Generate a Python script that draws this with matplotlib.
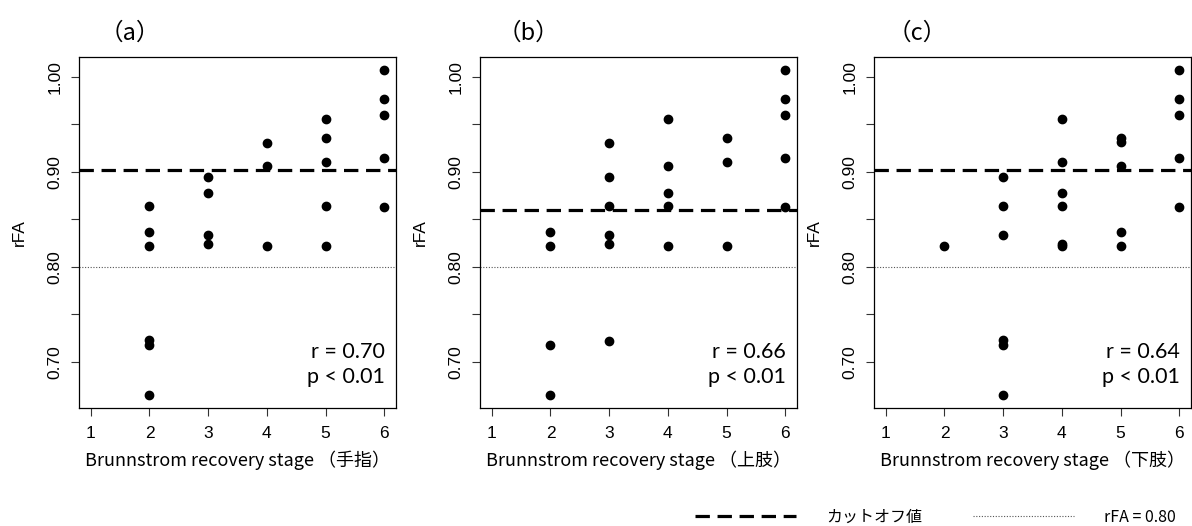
import numpy as np
import matplotlib
matplotlib.use("Agg")
import matplotlib.pyplot as plt
from matplotlib.lines import Line2D

plt.rcParams['font.family'] = ['Noto Sans CJK JP', 'DejaVu Sans']

# Brunnstrom stage vs rFA, one panel per body part
stage_a = [2, 2, 2, 2, 2, 2, 3, 3, 3, 3, 4, 4, 4, 5, 5, 5, 5, 5, 6, 6, 6, 6, 6]
rfa_a = [0.864, 0.837, 0.822, 0.723, 0.718, 0.665,
         0.894, 0.878, 0.833, 0.824,
         0.930, 0.906, 0.822,
         0.955, 0.935, 0.910, 0.864, 0.822,
         1.007, 0.977, 0.960, 0.914, 0.863]

stage_b = [2, 2, 2, 2, 3, 3, 3, 3, 3, 3, 4, 4, 4, 4, 4, 5, 5, 5, 6, 6, 6, 6, 6]
rfa_b = [0.837, 0.822, 0.718, 0.665,
         0.930, 0.894, 0.864, 0.833, 0.824, 0.722,
         0.955, 0.906, 0.878, 0.864, 0.822,
         0.935, 0.910, 0.822,
         1.007, 0.977, 0.960, 0.914, 0.863]

stage_c = [2, 3, 3, 3, 3, 3, 3, 4, 4, 4, 4, 4, 4, 5, 5, 5, 5, 5, 6, 6, 6, 6, 6]
rfa_c = [0.822,
         0.894, 0.864, 0.833, 0.723, 0.718, 0.665,
         0.955, 0.910, 0.878, 0.864, 0.824, 0.822,
         0.935, 0.931, 0.906, 0.837, 0.822,
         1.007, 0.977, 0.960, 0.914, 0.863]

panel_tags = ['（a）', '（b）', '（c）']
xlabels = ['Brunnstrom recovery stage （手指）',
           'Brunnstrom recovery stage （上肢）',
           'Brunnstrom recovery stage （下肢）']
cutoffs = [0.902, 0.860, 0.902]
r_values = [0.70, 0.66, 0.64]
ref_line = 0.80
stage_ticks = [1, 2, 3, 4, 5, 6]
rfa_ticks = [0.70, 0.75, 0.80, 0.85, 0.90, 0.95, 1.00]

W, H = 1192, 526
fig = plt.figure(figsize=(W / 100, H / 100), dpi=100)

lefts = [79, 480, 874]
tag_x = [130, 528, 917]
ax_w, top, bottom = 317, 57, 408

series = [(stage_a, rfa_a), (stage_b, rfa_b), (stage_c, rfa_c)]
latin = 'Liberation Sans'

for i, (xs, ys) in enumerate(series):
    ax = fig.add_axes([lefts[i] / W, (H - bottom) / H, ax_w / W, (bottom - top) / H])
    ax.plot(xs, ys, 'o', color='black', markersize=6, zorder=3)
    ax.axhline(cutoffs[i], color='black', lw=2.3, dashes=(4.5, 2.4))
    ax.axhline(ref_line, color='#555555', lw=0.8, ls=(0, (1, 1.5)))

    # R-style 4% padding around the data range
    lo, hi = min(ys), max(ys)
    pad = 0.04 * (hi - lo)
    ax.set_ylim(lo - pad, hi + pad)
    ax.set_xlim(0.8, 6.2)

    ax.set_xticks(stage_ticks)
    ax.set_xticklabels([str(s) for s in stage_ticks], family=latin, fontsize=12.5)
    ax.set_yticks(rfa_ticks)
    ax.set_yticklabels(['%.2f' % v if j % 2 == 0 else '' for j, v in enumerate(rfa_ticks)],
                       family=latin, fontsize=12.5, rotation=90, va='center')
    ax.tick_params(direction='out', length=6, width=0.8, color='#333333')
    ax.tick_params(axis='x', pad=7)
    ax.tick_params(axis='y', pad=6)
    for sp in ax.spines.values():
        sp.set_linewidth(0.9)

    ax.set_xlabel(xlabels[i], fontsize=13, labelpad=7)
    ax.set_ylabel('rFA', family=latin, fontsize=12.5, labelpad=15)

    ax.text(0.965, 0.123, 'r = %.2f\np < 0.01' % r_values[i], transform=ax.transAxes,
            ha='right', va='center', fontsize=15.5, family=['Lato', 'DejaVu Sans'],
            linespacing=1.3)

    fig.text(tag_x[i] / W, 1 - 33 / H, panel_tags[i], ha='center', va='center', fontsize=17)

handles = [Line2D([], [], color='black', lw=2.3, dashes=(4.5, 2.4)),
           Line2D([], [], color='#555555', lw=0.8, ls=(0, (1, 1.5)))]
fig.legend(handles, ['カットオフ値', 'rFA = 0.80'], ncol=2, frameon=False,
           loc='center left', bbox_to_anchor=(695 / W, 1 - 517 / H),
           fontsize=11.5, handlelength=6.3, handletextpad=1.9, columnspacing=3.2,
           borderpad=0, borderaxespad=0)

fig.savefig('out.png', dpi=100)
